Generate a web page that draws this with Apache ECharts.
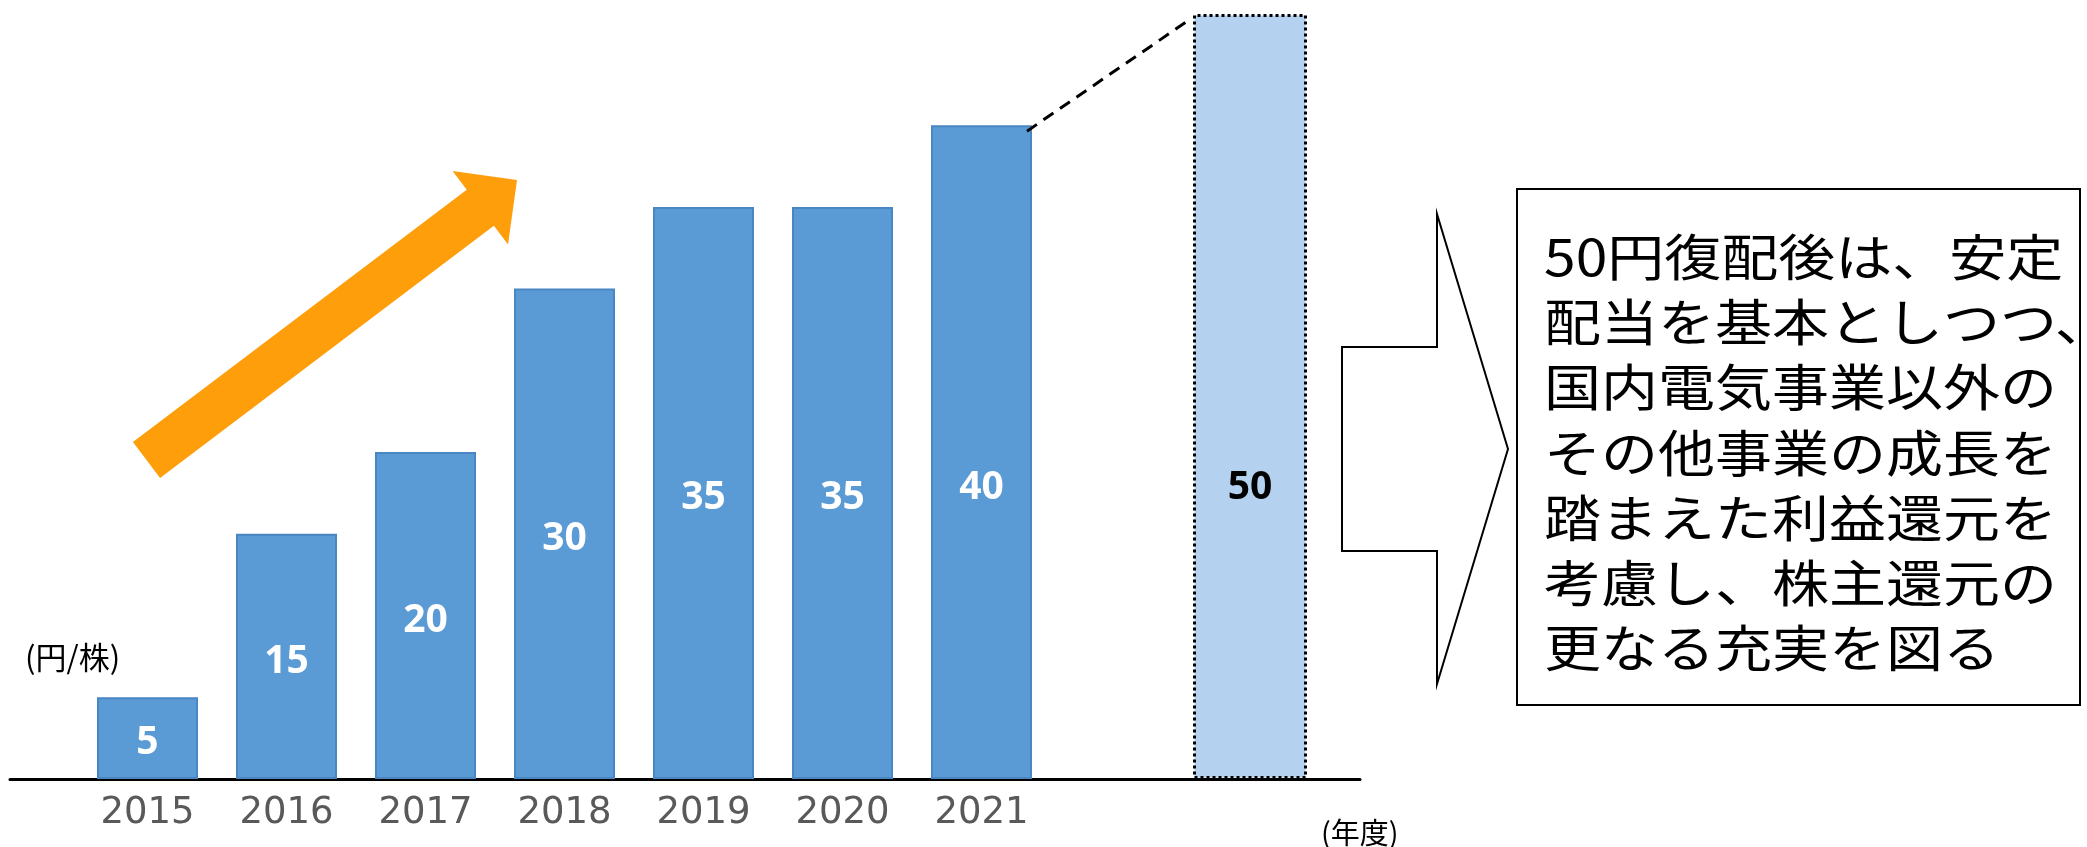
<!DOCTYPE html>
<html>
<head>
<meta charset="utf-8">
<script src="https://cdn.jsdelivr.net/npm/echarts@6/dist/echarts.min.js"></script>
<style>
html,body{margin:0;padding:0;background:#fff;}
#main{width:2087px;height:847px;}
</style>
</head>
<body>
<div id="main"></div>
<script>
// ---- data ----
const categories = ['2015', '2016', '2017', '2018', '2019', '2020', '2021'];
const dividends = [5, 15, 20, 30, 35, 35, 40];
const forecastCategory = ['見通し'];
const forecastValue = [50];
const unitLabel = '(円/株)';
const yearLabel = '(年度)';
const noteLines = [
  '50円復配後は、安定',
  '配当を基本としつつ、',
  '国内電気事業以外の',
  'その他事業の成長を',
  '踏まえた利益還元を',
  '考慮し、株主還元の',
  '更なる充実を図る'
];

const chart = echarts.init(document.getElementById('main'), null, {renderer: 'canvas'});

const barData = dividends.map((v, i) => i === dividends.length - 1
  ? {value: v, label: {position: ['50%', '55.5%'], offset: [0, 0]}}
  : v);

const option = {
  animation: false,
  backgroundColor: '#fff',
  title: [
    {text: unitLabel, left: 20, top: 637, textStyle: {fontSize: 31, fontWeight: 'normal', color: '#000', fontFamily: 'Noto Sans CJK JP'}},
    {text: yearLabel, left: 1316, top: 813, textStyle: {fontSize: 29, fontWeight: 'normal', color: '#000', fontFamily: 'Noto Sans CJK JP'}}
  ],
  grid: [
    {left: 78, width: 973, top: 14, bottom: 68},
    {left: 1193, width: 114, top: 14, bottom: 68},
    {left: 10, width: 1350, top: 14, bottom: 68}
  ],
  xAxis: [
    {type: 'category', gridIndex: 0, data: categories,
     axisLine: {show: false}, axisTick: {show: false},
     axisLabel: {fontSize: 37, color: '#595959', fontFamily: 'DejaVu Sans', margin: 16}},
    {type: 'category', gridIndex: 1, data: forecastCategory, show: false},
    {type: 'value', gridIndex: 2, min: 0, max: 1,
     axisLine: {show: true, lineStyle: {color: '#000', width: 3}},
     axisTick: {show: false}, axisLabel: {show: false}, splitLine: {show: false}}
  ],
  yAxis: [
    {type: 'value', gridIndex: 0, min: 0, max: 46.8, show: false},
    {type: 'value', gridIndex: 1, min: 0, max: 50, show: false},
    {type: 'value', gridIndex: 2, min: 0, max: 1, show: false}
  ],
  series: [
    {
      type: 'bar', xAxisIndex: 0, yAxisIndex: 0, data: barData,
      barWidth: 101,
      itemStyle: {color: '#5B9BD5', borderColor: '#4A86C2', borderWidth: 2},
      label: {show: true, position: 'inside', offset: [0, 5], color: '#fff', fontSize: 39,
              fontWeight: 'bold', fontFamily: 'Open Sans', align: 'center', verticalAlign: 'middle'},
      z: 3
    },
    {
      type: 'bar', xAxisIndex: 1, yAxisIndex: 1, data: forecastValue,
      barWidth: '100%',
      itemStyle: {color: '#B4D2F0', borderColor: '#000', borderWidth: 3, borderType: 'dotted'},
      label: {show: true, position: ['50%', '62%'], color: '#000', fontSize: 39,
              fontWeight: 'bold', fontFamily: 'Open Sans', align: 'center', verticalAlign: 'middle'},
      z: 3
    }
  ]
};
chart.setOption(option);

// connector line computed through the chart's scales
const lastIdx = categories.length - 1;
const p21 = chart.convertToPixel({xAxisIndex: 0, yAxisIndex: 0}, [categories[lastIdx], dividends[lastIdx]]);
const p50 = chart.convertToPixel({xAxisIndex: 1, yAxisIndex: 1}, [forecastCategory[0], forecastValue[0]]);

// orange trend arrow (decoration)
const T = [146.5, 460], P = [517, 180];
const dx = P[0] - T[0], dy = P[1] - T[1], L = Math.hypot(dx, dy);
const u = [dx / L, dy / L], n = [-u[1], u[0]];
const sw = 22.5, hw = 46, hl = 46;
const B = [P[0] - u[0] * hl, P[1] - u[1] * hl];
const pt = (c, k) => [c[0] + n[0] * k, c[1] + n[1] * k];
const orangePts = [pt(T, -sw), pt(B, -sw), pt(B, -hw), P, pt(B, hw), pt(B, sw), pt(T, sw)];

chart.setOption({
  graphic: [
    {type: 'polygon', shape: {points: orangePts}, style: {fill: '#FF9E0B'}, z: 10},
    {type: 'line', shape: {x1: p21[0] + 50.5 - 5, y1: p21[1] + 6, x2: p50[0] - 57 - 4, y2: p50[1] + 6},
     style: {stroke: '#000', lineWidth: 3, lineDash: [12, 8]}, z: 10},
    {type: 'polygon',
     shape: {points: [[1342, 347], [1437, 347], [1437, 214], [1508, 449], [1437, 684], [1437, 551], [1342, 551]]},
     style: {fill: '#fff', stroke: '#000', lineWidth: 2}, z: 10},
    {type: 'rect', shape: {x: 1517, y: 189, width: 563, height: 516},
     style: {fill: '#fff', stroke: '#000', lineWidth: 2}, z: 10},
    {type: 'text', x: 1544, y: 224, scaleX: 1.14, scaleY: 1, z: 11,
     style: {text: noteLines.join('\n'), fill: '#000', fontSize: 50, lineHeight: 65.3,
             fontFamily: 'Noto Sans CJK JP', textAlign: 'left', textVerticalAlign: 'top'}}
  ]
});
</script>
</body>
</html>
